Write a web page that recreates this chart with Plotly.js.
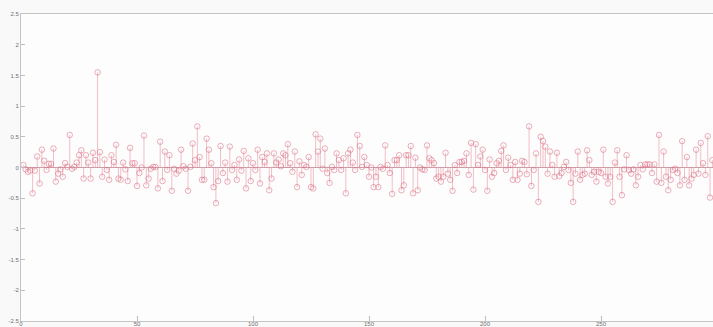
<!DOCTYPE html>
<html>
<head>
<meta charset="utf-8">
<script src="https://cdn.plot.ly/plotly-3.0.1.min.js"></script>
<style>
html,body{margin:0;padding:0;overflow:hidden;background:#f9f9f9;width:713px;height:327px;}
#chart{width:720px;height:327px;}
</style>
</head>
<body>
<div id="chart"></div>
<script>
// Signal samples n = 1..298
const valuesA = [0.04,-0.03,-0.07,-0.05,-0.42,-0.05,0.18,-0.26,0.29,0.11,
-0.04,0.06,0.06,0.31,-0.23,-0.1,-0.03,-0.15,0.07,0.01,
0.53,-0.02,0.01,0.08,0.2,0.28,-0.18,0.2,0.08,-0.18,
0.24,0.12,1.55,0.25,-0.15,0.13,-0.04,-0.2,0.2,0.09,
0.37,-0.18,-0.2,0.08,-0.03,-0.22,0.32,0.07,0.07,-0.3,
-0.09,0,0.52,-0.29,-0.18,-0.02,0.01,0.01,-0.34];
const valuesB = [0.42,-0.22,0.26,-0.04,0.2,-0.38,-0.02,-0.1,-0.05,0.29,
0.02,-0.02,-0.38,0.01,0.39,0.12,0.67,0.17,-0.2,-0.2,
0.47,0.29,0.07,-0.32,-0.58,-0.22,0.35,-0.09,0.08,-0.23,
0.34,-0.04,0.04,-0.2,0.13,-0.05,0.27,-0.34,0.15,-0.22,
0.07,-0.04,0.29,-0.26,0.17,0.09,0.23,-0.37,-0.18,0.23,
0.08,0.13,0.02,0.23,0.2,0.38,0.07,-0.07,0.26,-0.32];
const valuesC = [0.1,-0.12,0.04,0.01,0.17,-0.32,-0.34,0.54,0.26,0.47,
-0.02,0.31,-0.09,-0.25,0.01,-0.04,0.23,0.12,-0.04,0.15,
-0.42,0.23,0.29,0.08,-0.04,0.53,0.35,0.01,0.17,0.04,
-0.15,0,-0.32,-0.15,-0.32,0.01,-0.02,0.36,0.04,-0.09,
-0.43,0.12,0.12,0.2,-0.37,-0.29,0.2,0.2,0.35,-0.42,
0.16,-0.37,0,-0.03,-0.04,0.36,0.15,0.12,0.07,-0.18];
const valuesD = [-0.15,-0.23,-0.15,0.24,-0.1,-0.2,-0.38,0.04,-0.09,0.09,
0.09,0.11,0.23,-0.12,0.4,-0.36,0.38,0.04,0.18,0.29,
-0.04,-0.38,0.13,-0.15,-0.09,0.07,0.11,0.27,0.36,-0.04,
0.16,0.04,-0.2,0.09,-0.2,-0.1,0.11,0.09,-0.11,0.67,
-0.3,-0.04,0.23,-0.56,0.5,0.43,0.34,-0.1,0.26,0.04,
-0.15,0.24,-0.14,-0.09,0.01,0.09,-0.04,-0.25,-0.56];
const valuesE = [-0.1,0.26,-0.2,-0.12,-0.1,0.28,0.12,-0.12,-0.07,-0.23,
-0.07,-0.09,0.29,-0.15,-0.26,-0.15,-0.56,0.08,0.28,-0.15,
-0.45,-0.03,0.2,-0.04,-0.1,-0.03,-0.29,-0.15,0.04,-0.03,
0.05,0.05,0.05,-0.09,0.05,-0.23,0.53,-0.25,0.26,
-0.15,-0.37,-0.2,-0.04,-0.02,-0.09,-0.29,0.43,-0.2,0.17,
-0.29,-0.18,-0.12,0.29,-0.1,0.4,0.07,-0.12,0.51,
-0.49,0.12];

const xTicks = [0,50,100,150,200,250,300];
const yTicks = [-2.5,-2,-1.5,-1,-0.5,0,0.5,1,1.5,2,2.5];
const yTickText = ['-2.5','-2','-1.5','-1','-0.5','0','0.5','1','1.5','2','2.5'];

const values = valuesA.concat(valuesB, valuesC, valuesD, valuesE);
const n = values.map((v,i)=>i+1);

const stemX = [], stemY = [];
n.forEach((xi,i)=>{ stemX.push(xi,xi,null); stemY.push(0,values[i],null); });

const stemColor = 'rgba(228,120,138,0.6)';
const markColor = 'rgba(220,110,130,0.7)';

const traces = [
  {x:[0,300], y:[0,0], mode:'lines', line:{color:'rgba(190,130,140,0.75)', width:1}, hoverinfo:'skip'},
  {x:stemX, y:stemY, mode:'lines', line:{color:stemColor, width:0.8}, hoverinfo:'skip'},
  {x:n, y:values, mode:'markers', marker:{symbol:'circle-open', size:5.5, color:markColor, line:{width:0.8, color:markColor}}}
];

const axisCommon = {
  showgrid:false, zeroline:false, showline:true, linecolor:'#c4c4c4', linewidth:1,
  mirror:true, ticks:'inside', tickcolor:'#bdbdbd', ticklen:4,
  tickfont:{family:'Liberation Sans, Arial, sans-serif', size:6, color:'#707070'}
};

const layout = {
  width:720, height:327,
  margin:{l:21, r:3, t:14, b:6},
  paper_bgcolor:'#f9f9f9', plot_bgcolor:'#fdfdfd',
  showlegend:false,
  xaxis:Object.assign({}, axisCommon, {range:[0,300], tickvals:xTicks, ticktext:xTicks.map(String), ticklen:5, ticklabelstandoff:-3}),
  yaxis:Object.assign({}, axisCommon, {range:[-2.5,2.5], tickvals:yTicks, ticktext:yTickText})
};

Plotly.newPlot('chart', traces, layout, {staticPlot:true, displayModeBar:false});
</script>
</body>
</html>
